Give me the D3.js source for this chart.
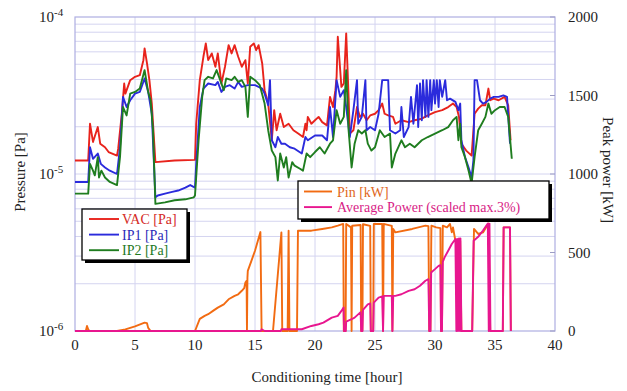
<!DOCTYPE html>
<html>
<head>
<meta charset="utf-8">
<script src="https://cdn.jsdelivr.net/npm/d3@7"></script>
<style>
    body { margin: 0; background: #fff; }
    svg { display: block; font-family: "Liberation Serif", "Times New Roman", serif; }
</style>
</head>
<body>
<svg id="chart" width="627" height="391"></svg>
<script>
// ——— Data (time in hours; pressures in units of 1e-5 Pa; power in kW) ———
const UNIT = 1e-5;
const hourTicks = [0, 5, 10, 15, 20, 25, 30, 35, 40];
const powerTicks = [0, 500, 1000, 1500, 2000];
const pressureTicks = [1e-6, 1e-5, 1e-4];

const vac = [[0,1.22],[1.1,1.22],[1.25,2.09],[1.5,1.6],[1.9,1.99],[2.1,1.56],[2.5,1.48],[2.8,1.38],[3.5,1.31],[3.6,1.45],
    [3.9,2.42],[4.1,3.77],[4.2,3.25],[4.6,3.96],[5.0,4.16],[5.4,4.26],[5.7,5.31],[5.8,6.31],[6.0,5.06],[6.2,3.96],[6.4,2.81],
    [6.7,1.19],[8.3,1.22],[10.0,1.23],[10.1,2.09],[10.4,3.96],[10.7,5.58],[10.9,6.79],[11.1,5.31],[11.4,5.86],[11.7,4.82],
    [11.9,5.86],[12.2,3.77],[12.5,4.82],[12.8,6.62],[13.05,5.86],[13.3,6.62],[13.6,5.58],[13.9,4.82],[14.2,5.31],[14.4,3.77],
    [14.6,6.46],[14.9,6.79],[15.1,6.15],[15.3,6.62],[15.6,5.06],[15.8,3.42],[16.1,2.81],[16.4,1.64],[16.6,2.55],[16.8,1.9],
    [17.1,2.42],[17.4,1.99],[17.8,2.09],[18.2,1.9],[18.6,1.81],[19.0,1.72],[19.2,2.09],[19.3,1.9],[19.4,2.31],[19.7,2.09],
    [20.0,2.2],[20.3,2.31],[20.6,2.14],[21.0,2.04],[21.25,3.1],[21.5,2.67],[21.7,3.42],[21.8,4.16],[21.9,7.48],[22.2,3.59],
    [22.4,3.77],[22.6,7.87],[22.8,3.1],[22.9,1.81],[23.2,1.9],[23.5,2.67],[23.75,2.31],[24.0,2.42],[24.3,2.2],[24.6,2.36],
    [25.0,2.42],[25.3,2.55],[25.6,2.81],[25.8,2.42],[26.1,2.36],[26.5,2.31],[26.7,2.09],[27.2,2.2],[27.8,2.14],[28.3,2.2],
    [28.9,2.25],[29.4,2.36],[30.0,2.48],[30.6,2.55],[31.1,2.67],[31.5,2.81],[31.8,2.67],[32.0,2.31],[32.2,1.56],[32.6,1.41],
    [33.05,1.31],[33.3,2.42],[33.6,2.61],[33.9,2.74],[34.2,2.74],[34.45,3.5],[34.6,2.95],[34.9,3.02],[35.3,2.95],[35.8,3.1],
    [36.1,2.74],[36.3,1.64]];

const ip1 = [[0,0.89],[1.1,0.89],[1.25,1.48],[1.5,1.25],[1.9,1.35],[2.15,1.16],[2.5,1.1],[2.9,1.05],[3.5,1.0],[3.75,1.48],
    [4.0,3.1],[4.3,2.67],[4.6,2.95],[5.0,3.25],[5.4,3.33],[5.8,4.06],[6.1,3.33],[6.4,2.42],[6.7,0.71],[6.9,0.73],[7.5,0.75],
    [8.1,0.77],[8.6,0.785],[9.2,0.82],[9.6,0.85],[10.0,0.82],[10.1,1.16],[10.4,2.67],[10.7,3.5],[11.1,3.77],[11.7,3.68],
    [11.9,3.86],[12.2,3.33],[12.5,3.59],[12.9,3.68],[13.3,3.5],[13.6,3.86],[13.9,3.59],[14.4,3.68],[15.0,3.68],[15.6,3.5],
    [15.8,3.25],[16.1,2.74],[16.25,3.96],[16.4,1.64],[16.7,1.48],[16.9,1.72],[17.2,1.56],[17.5,1.56],[17.9,1.48],[18.3,1.45],
    [18.9,1.35],[19.2,1.72],[19.4,1.64],[20.0,1.76],[20.6,1.76],[21.0,1.64],[21.25,2.67],[21.5,1.72],[21.8,3.96],[22.1,3.1],
    [22.4,3.42],[22.6,2.67],[22.9,1.72],[23.2,2.55],[23.5,3.96],[23.6,2.09],[23.9,2.31],[24.2,3.96],[24.3,1.9],[24.6,1.99],
    [25.0,1.9],[25.3,2.42],[25.6,3.96],[26.1,3.96],[26.25,1.9],[26.7,1.81],[27.1,1.9],[27.2,2.67],[27.4,1.72],[27.8,1.99],
    [28.0,3.1],[28.2,2.09],[28.5,3.68],[28.6,1.99],[28.75,3.77],[28.9,2.2],[29.0,3.96],[29.2,2.31],[29.3,3.96],[29.45,2.31],
    [29.6,3.96],[29.7,2.55],[29.9,3.96],[30.0,2.81],[30.15,3.96],[30.3,2.67],[30.4,3.96],[30.6,3.1],[30.85,3.96],[31.0,2.95],
    [31.25,3.02],[31.7,2.88],[31.95,2.55],[32.1,2.81],[32.2,1.64],[32.5,1.28],[32.8,1.1],[33.05,0.95],[33.2,1.22],[33.3,3.96],
    [33.5,3.96],[33.75,2.95],[34.0,2.81],[34.3,2.88],[34.6,3.02],[34.9,3.1],[35.3,3.1],[35.7,3.17],[36.0,3.1],[36.25,1.56]];

const ip2 = [[0,0.75],[1.1,0.75],[1.25,1.16],[1.5,1.05],[1.65,0.98],[1.9,1.28],[2.0,0.95],[2.2,1.05],[2.5,0.95],[2.9,0.89],
    [3.5,0.85],[3.75,1.28],[4.0,2.67],[4.3,2.36],[4.6,3.25],[5.0,3.33],[5.4,3.5],[5.8,4.59],[6.1,3.33],[6.3,2.95],[6.5,1.9],
    [6.7,0.645],[7.5,0.66],[8.3,0.68],[9.2,0.69],[9.9,0.71],[10.0,0.73],[10.3,1.64],[10.6,3.1],[10.8,3.96],[11.1,4.16],
    [11.5,4.06],[11.8,4.59],[12.1,3.96],[12.4,3.42],[12.6,4.06],[13.05,3.96],[13.3,4.16],[13.6,3.86],[13.9,3.96],[14.2,3.59],
    [14.4,2.31],[14.6,4.16],[15.0,3.96],[15.4,3.68],[15.8,2.81],[16.1,1.9],[16.4,1.41],[16.7,1.28],[16.9,0.91],[17.1,1.35],
    [17.4,1.1],[17.6,1.28],[17.8,0.95],[18.1,1.19],[18.3,1.13],[18.75,1.08],[19.0,1.05],[19.3,1.35],[19.6,1.28],[20.0,1.38],
    [20.4,1.48],[20.8,1.35],[21.25,1.56],[21.5,1.64],[21.8,2.55],[22.1,2.09],[22.4,2.31],[22.6,4.59],[22.8,1.9],[23.05,1.1],
    [23.3,1.56],[23.6,1.9],[23.9,1.81],[24.2,1.9],[24.4,1.56],[24.7,1.41],[25.0,1.48],[25.4,1.9],[25.8,1.72],[26.25,1.81],
    [26.4,1.1],[26.7,1.35],[27.2,1.64],[27.5,1.48],[27.9,1.56],[28.3,1.48],[28.9,1.64],[29.4,1.72],[30.0,1.81],[30.6,1.9],
    [31.1,1.99],[31.5,2.2],[31.8,2.31],[31.95,1.64],[32.1,2.09],[32.2,1.48],[32.5,1.28],[32.8,1.05],[33.05,0.87],[33.3,1.28],
    [33.6,1.9],[33.9,2.09],[34.2,2.31],[34.45,2.81],[34.7,2.42],[35.0,2.55],[35.4,2.67],[35.8,2.67],[36.1,2.31],[36.4,1.25]];

const pin = [[0,0],[0.9,0],[1.0,32],[1.1,10],[1.2,0],[3.5,0],[4.2,10],[5.0,30],[5.8,53],[6.0,50],[6.1,20],[6.3,0],
    [10.0,0],[10.4,77],[10.8,96],[11.1,107],[11.5,128],[11.9,149],[12.4,170],[12.8,202],[13.3,224],[13.6,234],[13.9,256],
    [14.1,273],[14.2,309],[14.3,320],[14.33,0],[14.37,340],[14.4,383],[14.7,447],[15.0,511],[15.45,630],[15.55,0],[16.5,0],
    [17.2,628],[17.27,0],[17.72,0],[17.8,639],[17.87,0],[18.5,0],[18.58,639],[19.7,639],[20.6,650],[21.4,660],[21.9,671],
    [22.35,682],[22.4,0],[22.55,0],[22.6,682],[23.0,660],[23.05,0],[23.1,670],[23.8,675],[23.85,0],[23.95,0],[24.0,680],
    [24.6,670],[24.65,0],[24.85,0],[24.9,682],[25.6,682],[25.67,0],[25.73,682],[26.4,670],[26.45,0],[26.52,650],[26.7,628],
    [28.1,650],[29.2,671],[29.45,668],[29.52,0],[29.62,0],[29.7,671],[30.1,660],[30.45,655],[30.5,0],[30.58,0],[30.65,671],
    [31.0,660],[31.25,682],[31.4,628],[31.5,660],[31.7,575],[32.1,575],[32.2,0],[33.1,0],[33.25,650],[33.6,618],[34.0,628],
    [34.45,684],[34.6,0],[35.65,0],[35.72,660],[36.25,660],[36.32,0]];

const avgPower = [[0,0],[15.5,0],[15.55,11],[15.8,0],[17.15,0],[17.2,11],[18.9,11],[19.7,32],[20.3,43],[20.7,53],
    [21.4,85],[21.9,96],[22.2,128],[22.38,149],[22.42,0],[22.56,0],[22.6,60],[23.05,75],[23.3,85],[23.8,120],[23.85,0],
    [23.95,0],[24.0,135],[24.4,170],[24.6,176],[24.65,0],[24.85,0],[24.9,181],[25.3,213],[25.6,220],[25.67,0],[25.73,224],
    [26.4,224],[26.45,0],[26.52,224],[26.7,224],[27.2,234],[27.8,256],[28.3,266],[28.75,288],[29.2,320],[29.45,330],
    [29.52,0],[29.62,0],[29.68,373],[30.0,394],[30.3,415],[30.45,420],[30.5,0],[30.58,0],[30.65,440],[30.8,469],[31.1,511],
    [31.4,554],[31.7,586],[31.78,0],[31.85,586],[31.92,0],[32.0,590],[32.08,0],[32.12,590],[32.2,0],[33.1,0],[33.22,575],
    [33.6,600],[34.0,640],[34.4,684],[34.48,0],[34.54,684],[34.62,0],[35.65,0],[35.72,660],[36.25,660],[36.32,0]];

const pressureSeries = [
    { name: 'VAC [Pa]', data: vac, color: '#e8231c', text: '#d42a1f' },
    { name: 'IP1 [Pa]', data: ip1, color: '#2b2bdc', text: '#2a2ab8' },
    { name: 'IP2 [Pa]', data: ip2, color: '#1f7d1f', text: '#1f7a1f' }
];
const powerSeries = [
    { name: 'Pin [kW]', data: pin, color: '#f26b12', text: '#e0661a' },
    { name: 'Average Power (scaled max.3%)', data: avgPower, color: '#e8168f', text: '#d81c86' }
];

// ——— Scales ———
const plot = { left: 75, right: 555, top: 17, bottom: 331 };
const x = d3.scaleLinear().domain([0, 40]).range([plot.left, plot.right]);
const yP = d3.scaleLog().domain([1e-6, 1e-4]).range([plot.bottom, plot.top]);
const yW = d3.scaleLinear().domain([0, 2000]).range([plot.bottom, plot.top]);

const svg = d3.select('#chart');
const GRID = '#d4d4f0';
const FRAME = '#aeaee2';

// ——— Grid ———
const grid = svg.append('g');
const minor = [];
[1e-6, 1e-5].forEach(dec => { for (let k = 1; k <= 9; k++) if (dec * k > 1e-6) minor.push(dec * k); });
grid.selectAll('line.h').data(minor).join('line')
    .attr('x1', plot.left).attr('x2', plot.right)
    .attr('y1', d => yP(d)).attr('y2', d => yP(d))
    .attr('stroke', GRID).attr('stroke-width', 1);
grid.selectAll('line.v').data(hourTicks.slice(1, -1)).join('line')
    .attr('x1', d => x(d)).attr('x2', d => x(d))
    .attr('y1', plot.top).attr('y2', plot.bottom)
    .attr('stroke', GRID).attr('stroke-width', 1);

svg.append('rect')
    .attr('x', plot.left).attr('y', plot.top)
    .attr('width', plot.right - plot.left).attr('height', plot.bottom - plot.top)
    .attr('fill', 'none').attr('stroke', FRAME).attr('stroke-width', 1.2);

// right axis ticks
svg.append('g').selectAll('line').data(powerTicks).join('line')
    .attr('x1', plot.right - 5).attr('x2', plot.right)
    .attr('y1', d => yW(d)).attr('y2', d => yW(d))
    .attr('stroke', '#9c9cc4').attr('stroke-width', 1);

// ——— Lines ———
svg.append('clipPath').attr('id', 'clip').append('rect')
    .attr('x', plot.left).attr('y', plot.top)
    .attr('width', plot.right - plot.left).attr('height', plot.bottom - plot.top + 1);

const lines = svg.append('g').attr('clip-path', 'url(#clip)');
const pLine = d3.line().x(d => x(d[0])).y(d => yP(d[1] * UNIT));
const wLine = d3.line().x(d => x(d[0])).y(d => yW(d[1]));

pressureSeries.forEach(s => {
    lines.append('path').attr('d', pLine(s.data))
        .attr('fill', 'none').attr('stroke', s.color)
        .attr('stroke-width', 1.9).attr('stroke-linejoin', 'round');
});
powerSeries.forEach(s => {
    lines.append('path').attr('d', wLine(s.data))
        .attr('fill', 'none').attr('stroke', s.color)
        .attr('stroke-width', 1.9).attr('stroke-linejoin', 'round');
});

// ——— Tick labels ———
const tickFont = 15;
svg.append('g').selectAll('text').data(hourTicks).join('text')
    .attr('x', d => x(d)).attr('y', 350)
    .attr('text-anchor', 'middle').attr('font-size', tickFont).attr('fill', '#222')
    .text(d => d);

const pl = svg.append('g').selectAll('text').data(pressureTicks).join('text')
    .attr('x', 39).attr('y', d => yP(d) + 5)
    .attr('font-size', tickFont).attr('fill', '#222');
pl.append('tspan').text('10');
pl.append('tspan').attr('dy', -6).attr('font-size', 11)
    .text(d => '-' + Math.round(-Math.log10(d)));

svg.append('g').selectAll('text').data(powerTicks).join('text')
    .attr('x', 568).attr('y', d => yW(d) + 5)
    .attr('font-size', tickFont).attr('fill', '#222')
    .text(d => d);

// ——— Axis titles ———
svg.append('text')
    .attr('transform', 'translate(25,172) rotate(-90)')
    .attr('text-anchor', 'middle').attr('font-size', 15).attr('fill', '#222')
    .text('Pressure [Pa]');
svg.append('text')
    .attr('transform', 'translate(603,170) rotate(90)')
    .attr('text-anchor', 'middle').attr('font-size', 15).attr('fill', '#222')
    .text('Peak power [kW]');
svg.append('text')
    .attr('x', 327).attr('y', 382)
    .attr('text-anchor', 'middle').attr('font-size', 15).attr('fill', '#222')
    .text('Conditioning time [hour]');

// ——— Legends ———
function legend(series, bx, by, bw, bh, rowY, lineX0, lineX1, textX) {
    const g = svg.append('g');
    g.append('rect').attr('x', bx + 3).attr('y', by + 3).attr('width', bw).attr('height', bh).attr('fill', '#000');
    g.append('rect').attr('x', bx).attr('y', by).attr('width', bw).attr('height', bh)
        .attr('fill', '#fff').attr('stroke', '#000').attr('stroke-width', 1.3);
    series.forEach((s, i) => {
        const cy = rowY[i];
        g.append('line').attr('x1', lineX0).attr('x2', lineX1).attr('y1', cy).attr('y2', cy)
            .attr('stroke', s.color).attr('stroke-width', 1.9);
        g.append('text').attr('x', textX).attr('y', cy + 5)
            .attr('font-size', 14).attr('fill', s.text).text(s.name);
    });
}
legend(pressureSeries, 82, 209, 105, 51, [219, 234.6, 250.2], 89, 119, 122);
legend(powerSeries, 298, 181, 251, 38, [191.5, 207.1], 304, 332, 337);
</script>
</body>
</html>
